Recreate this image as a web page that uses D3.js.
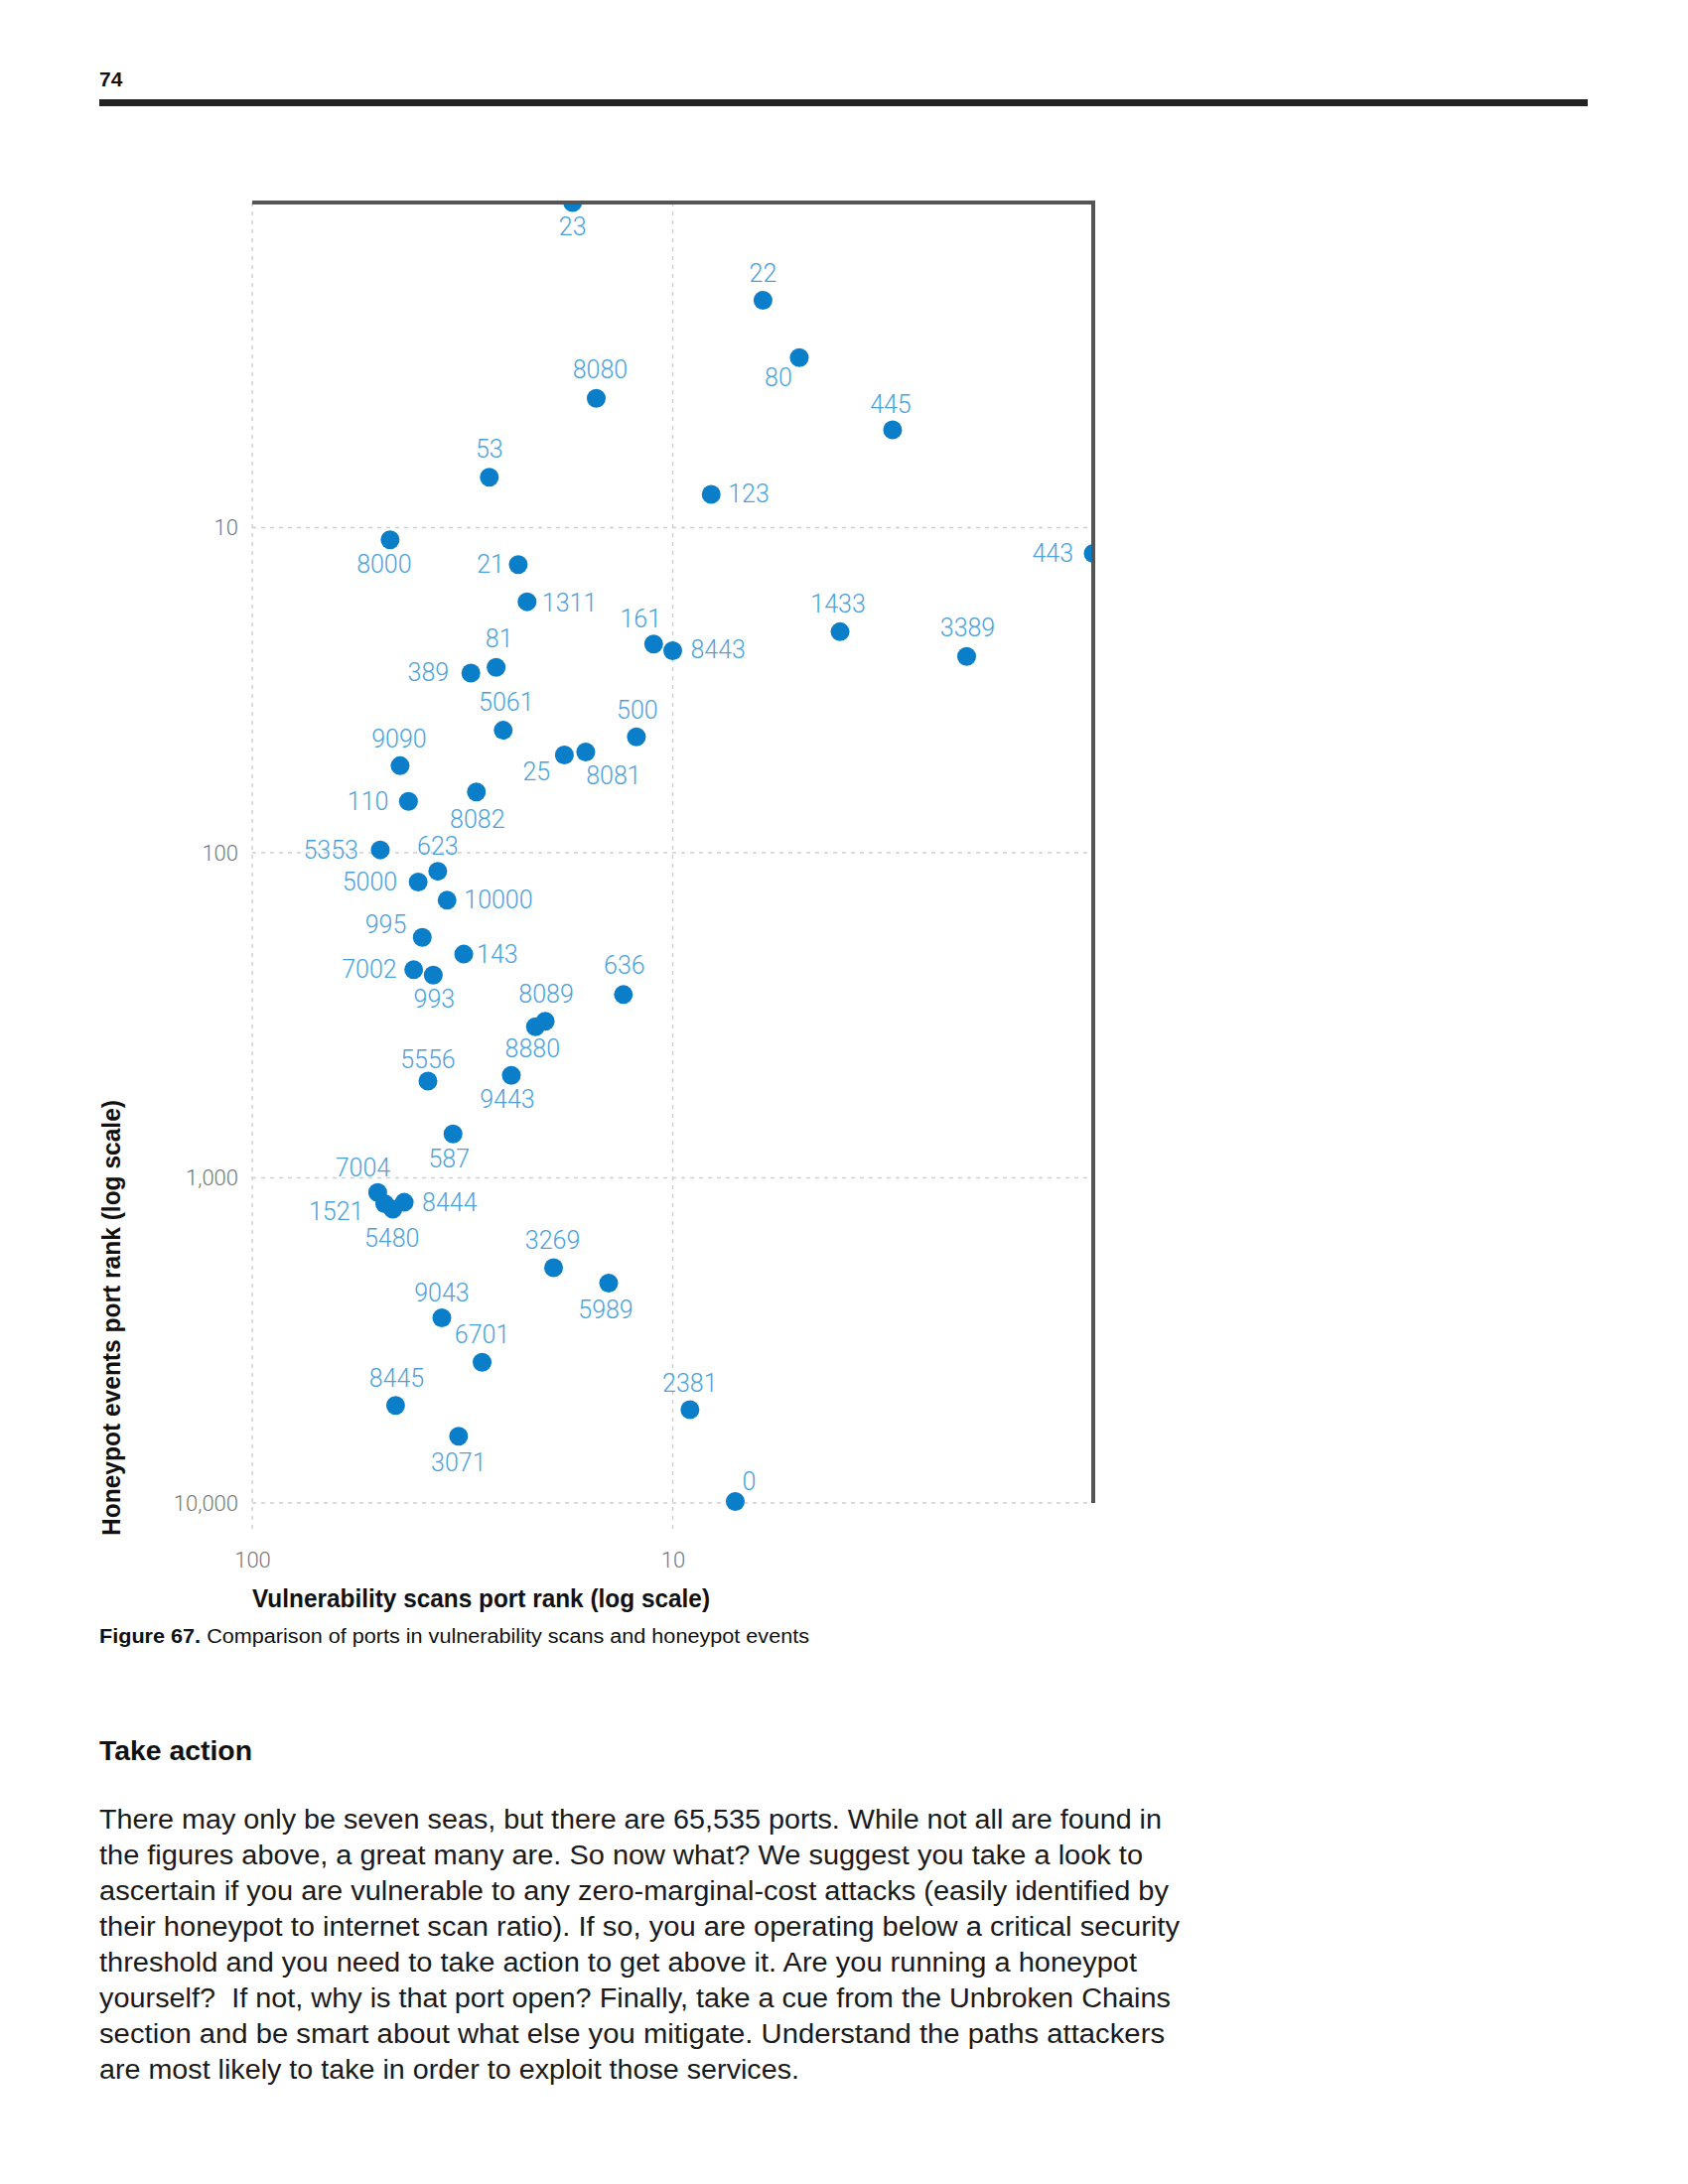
<!DOCTYPE html>
<html>
<head>
<meta charset="utf-8">
<script src="https://cdn.jsdelivr.net/npm/d3@7"></script>
<style>
  html, body { margin: 0; padding: 0; background: #fff; }
  svg { display: block; }
</style>
</head>
<body>
<script>
// ---- Data ----
const ports = ["23","22","80","8080","445","53","123","8000","443","21","1311","1433","161","8443","3389","81","389","5061","500","9090","8081","25","8082","110","5353","623","5000","10000","995","143","7002","993","636","8089","8880","5556","9443","587","7004","1521","5480","8444","3269","5989","9043","6701","8445","2381","3071","0"];
const scanRank = [17.3,6.1,5.0,15.2,3.0,27.3,8.1,47,1.0,23.3,22.2,4.0,11.1,10.0,2.0,26.3,30.2,25.3,12.2,44.5,16.1,18.1,29.3,42.5,49.6,36.2,40.3,34.4,39.4,31.4,41.3,37.1,13.1,20.1,21.2,38.2,24.2,33.3,50.3,48.4,46.3,43.5,19.2,14.2,35.4,28.4,45.6,9.1,32.3,7.1];
const honeypotRank = [1.0,2.0,3.0,4.0,5.0,7.0,7.9,10.9,12.0,13.0,16.9,20.9,22.8,23.9,24.9,26.9,28,42,44,54,49,50,65,69.5,98,114,123,140,182,205,229,238,273,330,343,504,484,733,1109,1200,1248,1189,1889,2106,2694,3692,5015,5164,6229,9900];
const xTicks = [100, 10];
const xTickLabels = ["100", "10"];
const yTicks = [10, 100, 1000, 10000];
const yTickLabels = ["10", "100", "1,000", "10,000"];

const pageNumber = "74";
const xTitle = "Vulnerability scans port rank (log scale)";
const yTitle = "Honeypot events port rank (log scale)";
const captionBold = "Figure 67.";
const captionText = " Comparison of ports in vulnerability scans and honeypot events";
const heading = "Take action";
const bodyLines = [
  "There may only be seven seas, but there are 65,535 ports. While not all are found in",
  "the figures above, a great many are. So now what? We suggest you take a look to",
  "ascertain if you are vulnerable to any zero-marginal-cost attacks (easily identified by",
  "their honeypot to internet scan ratio). If so, you are operating below a critical security",
  "threshold and you need to take action to get above it. Are you running a honeypot",
  "yourself?  If not, why is that port open? Finally, take a cue from the Unbroken Chains",
  "section and be smart about what else you mitigate. Understand the paths attackers",
  "are most likely to take in order to exploit those services."
];

// ---- Layout / styling ----
const W = 1700, H = 2200;
const plot = { left: 254, right: 1101, top: 204, bottom: 1514 };
const dotColor = "#0a7ec8";
const labelColor = "#4aa2dc";
const gridColor = "#cfcfcf";
const frameColor = "#555";
const tickColor = "#777";
const labelFont = "Roboto, 'Liberation Sans', Arial, sans-serif";
const textFont = "'Liberation Sans', Arial, Helvetica, sans-serif";

// label placement relative to dot: [dx, dy, anchor]
const place = {
  "23":[0,24,"middle"], "22":[0,-27,"middle"], "80":[-21,20,"middle"], "8080":[4,-29,"middle"],
  "445":[-2,-25,"middle"], "53":[0,-28,"middle"], "123":[17,0,"start"], "8000":[-6,25,"middle"],
  "443":[-20,0,"end"], "21":[-14,0,"end"], "1311":[15,1,"start"], "1433":[-2,-28,"middle"],
  "161":[-13,-25,"middle"], "8443":[18,-1,"start"], "3389":[1,-29,"middle"], "81":[3,-29,"middle"],
  "389":[-22,0,"end"], "5061":[3,-28,"middle"], "500":[1,-27,"middle"], "9090":[-1,-27,"middle"],
  "8081":[28,24,"middle"], "25":[-28,17,"middle"], "8082":[1,28,"middle"], "110":[-20,0,"end"],
  "5353":[-22,0,"end"], "623":[0,-25,"middle"], "5000":[-21,0,"end"], "10000":[17,0,"start"],
  "995":[-16,-13,"end"], "143":[13,0,"start"], "7002":[-17,0,"end"], "993":[1,24,"middle"],
  "636":[1,-29,"middle"], "8089":[1,-27,"middle"], "8880":[-3,22,"middle"], "5556":[0,-22,"middle"],
  "9443":[-4,24,"middle"], "587":[-4,25,"middle"], "7004":[-15,-25,"middle"], "1521":[-21,8,"end"],
  "5480":[-1,29,"middle"], "8444":[18,0,"start"], "3269":[-1,-27,"middle"], "5989":[-3,27,"middle"],
  "9043":[0,-25,"middle"], "6701":[0,-28,"middle"], "8445":[1,-27,"middle"], "2381":[0,-27,"middle"],
  "3071":[0,27,"middle"], "0":[14,-20,"middle"]
};

const svg = d3.select("body").append("svg").attr("width", W).attr("height", H);

// Page header
svg.append("text").attr("x", 100).attr("y", 87)
  .attr("font-family", textFont).attr("font-weight", "bold").attr("font-size", 21)
  .attr("fill", "#111").text(pageNumber);
svg.append("rect").attr("x", 100).attr("y", 100).attr("width", 1499).attr("height", 7).attr("fill", "#222");

// Scales
const x = d3.scaleLog().domain([100, 1]).range([plot.left, plot.right]);
const y = d3.scaleLog().domain([1, 10000]).range([plot.top, plot.bottom]);

// Gridlines
const grid = svg.append("g");
grid.selectAll("line.v").data(xTicks).enter().append("line")
  .attr("x1", d => x(d)).attr("x2", d => x(d))
  .attr("y1", plot.top).attr("y2", plot.bottom + 30)
  .attr("stroke", gridColor).attr("stroke-width", 1.5).attr("stroke-dasharray", "4,5");
grid.selectAll("line.h").data(yTicks).enter().append("line")
  .attr("x1", plot.left).attr("x2", plot.right)
  .attr("y1", d => y(d)).attr("y2", d => y(d))
  .attr("stroke", gridColor).attr("stroke-width", 1.5).attr("stroke-dasharray", "4,5");

// Tick labels (via d3 axes, domain/ticks hidden)
const yAxis = d3.axisLeft(y).tickValues(yTicks).tickFormat((d, i) => yTickLabels[i]).tickSize(0).tickPadding(14);
const gy = svg.append("g").attr("transform", `translate(${plot.left},0)`).call(yAxis);
gy.select(".domain").remove();
gy.selectAll("text").attr("font-family", labelFont).attr("font-weight", 300).attr("font-size", 22).attr("fill", tickColor);

const xAxis = d3.axisBottom(x).tickValues(xTicks).tickFormat((d, i) => xTickLabels[i]).tickSize(0).tickPadding(0);
const gx = svg.append("g").attr("transform", `translate(0,${plot.bottom + 49})`).call(xAxis);
gx.select(".domain").remove();
gx.selectAll("text").attr("font-family", labelFont).attr("font-weight", 300).attr("font-size", 22).attr("fill", tickColor).attr("dy", "0.71em");

// Clip for dots (top and right edges only)
svg.append("clipPath").attr("id", "plotclip").append("rect")
  .attr("x", plot.left - 40).attr("y", plot.top).attr("width", plot.right - plot.left + 40).attr("height", plot.bottom - plot.top + 40);

const pts = ports.map((p, i) => ({ port: p, sx: scanRank[i], hy: honeypotRank[i] }));

svg.append("g").attr("clip-path", "url(#plotclip)")
  .selectAll("circle").data(pts).enter().append("circle")
  .attr("cx", d => x(d.sx)).attr("cy", d => y(d.hy)).attr("r", 9.5).attr("fill", dotColor);

// Frame: top and right borders
svg.append("line").attr("x1", plot.left).attr("x2", plot.right + 2).attr("y1", plot.top).attr("y2", plot.top)
  .attr("stroke", frameColor).attr("stroke-width", 4);
svg.append("line").attr("x1", plot.right).attr("x2", plot.right).attr("y1", plot.top).attr("y2", plot.bottom)
  .attr("stroke", frameColor).attr("stroke-width", 4);

// Point labels
svg.append("g").selectAll("text").data(pts).enter().append("text")
  .attr("x", d => x(d.sx) + place[d.port][0])
  .attr("y", d => y(d.hy) + place[d.port][1])
  .attr("text-anchor", d => place[d.port][2])
  .attr("dominant-baseline", "central")
  .attr("font-family", labelFont).attr("font-weight", 300).attr("font-size", 25)
  .attr("fill", labelColor)
  .text(d => d.port);

// Axis titles
svg.append("text").attr("x", plot.left).attr("y", 1619)
  .attr("font-family", textFont).attr("font-weight", "bold").attr("font-size", 25)
  .attr("fill", "#111").attr("textLength", 461).attr("lengthAdjust", "spacingAndGlyphs")
  .text(xTitle);
svg.append("text").attr("transform", "translate(121,1547) rotate(-90)")
  .attr("font-family", textFont).attr("font-weight", "bold").attr("font-size", 25)
  .attr("fill", "#111").attr("textLength", 439).attr("lengthAdjust", "spacingAndGlyphs")
  .text(yTitle);

// Caption
const cap = svg.append("text").attr("x", 100).attr("y", 1655)
  .attr("font-family", textFont).attr("font-size", 20).attr("fill", "#111")
  .attr("textLength", 715).attr("lengthAdjust", "spacingAndGlyphs");
cap.append("tspan").attr("font-weight", "bold").text(captionBold);
cap.append("tspan").text(captionText);

// Heading
svg.append("text").attr("x", 100).attr("y", 1773)
  .attr("font-family", textFont).attr("font-weight", "bold").attr("font-size", 28)
  .attr("fill", "#111").attr("textLength", 154).attr("lengthAdjust", "spacingAndGlyphs")
  .text(heading);

// Body paragraph
const lineWidths = [1070, 1051, 1077, 1088, 1045, 1079, 1073, 705];
svg.append("g").selectAll("text").data(bodyLines).enter().append("text")
  .attr("x", 100).attr("y", (d, i) => 1842 + i * 36)
  .attr("font-family", textFont).attr("font-size", 27).attr("fill", "#1a1a1a")
  .attr("textLength", (d, i) => lineWidths[i]).attr("lengthAdjust", "spacingAndGlyphs")
  .attr("xml:space", "preserve")
  .text(d => d);
</script>
</body>
</html>
